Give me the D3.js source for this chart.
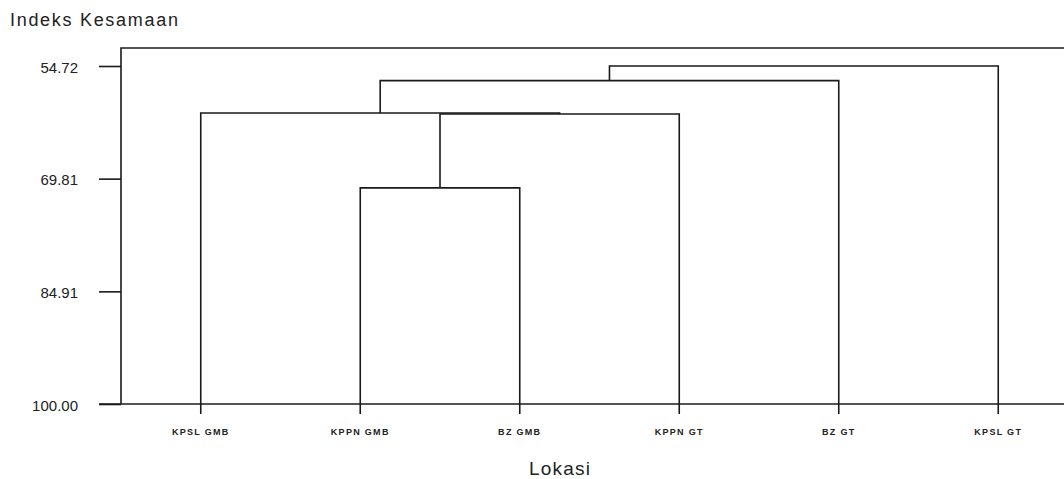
<!DOCTYPE html>
<html>
<head>
<meta charset="utf-8">
<title>Dendrogram Indeks Kesamaan</title>
<script src="https://cdn.jsdelivr.net/npm/d3@7"></script>
<style>
  html, body { margin: 0; padding: 0; background: #fff; }
  #chart { width: 1064px; height: 479px; overflow: hidden; }
  text { font-family: "Liberation Sans", Arial, sans-serif; fill: #222; }
</style>
</head>
<body>
<div id="chart"></div>
<script>
// locations along the bottom (leaf order of the dendrogram)
var lokasi = ['KPSL GMB', 'KPPN GMB', 'BZ GMB', 'KPPN GT', 'BZ GT', 'KPSL GT'];

// clustering steps: [left, right, similarity index at which they join]
// numbers refer to leaves (0..5), 'c1'.. refer to earlier clusters
var mergeLeft  = [1, 'c1', 0, 'c3', 'c4'];
var mergeRight = [2, 3, 'c2', 4, 5];
var mergeLevel = [71.05, 61.15, 61.02, 56.68, 54.72];

// y axis tick labels
var yTicks = [54.72, 69.81, 84.91, 100.00];
var yTop = 52.3; // top of the frame

(function(){
  'use strict';

  var width = 1064, height = 479;
  var left = 121, right = 1078, top = 66, bottom = 404;

  var svg = d3.select('#chart')
    .append('svg')
    .attr('width', width)
    .attr('height', height);

  var xScale = d3.scaleBand()
    .domain(lokasi)
    .range([left, right]);

  var yScale = d3.scaleLinear()
    .domain([100, 54.72])
    .range([bottom, top]);

  // positions of leaves and clusters
  var nodes = {};
  lokasi.forEach(function(d, i) {
    nodes[i] = { x: xScale(d) + xScale.bandwidth() / 2, y: yScale(100) };
  });

  var links = [];
  mergeLevel.forEach(function(lvl, i) {
    var a = nodes[mergeLeft[i]], b = nodes[mergeRight[i]];
    var yy = yScale(lvl);
    links.push([[a.x, a.y], [a.x, yy], [b.x, yy], [b.x, b.y]]);
    nodes['c' + (i + 1)] = { x: (a.x + b.x) / 2, y: yy };
  });

  var line = d3.line();

  svg.append('g')
    .selectAll('path')
    .data(links).enter()
    .append('path')
    .attr('d', line)
    .attr('fill', 'none')
    .attr('stroke', '#1a1a1a')
    .attr('stroke-width', 1.6);

  // frame: left, top
  svg.append('path')
    .attr('d', line([[right + 20, yScale(yTop)], [left, yScale(yTop)], [left, bottom]]))
    .attr('fill', 'none')
    .attr('stroke', '#1a1a1a')
    .attr('stroke-width', 1.6);

  // left axis
  var yAxis = d3.axisLeft(yScale)
    .tickValues(yTicks)
    .tickSize(22)
    .tickPadding(21)
    .tickFormat(d3.format('.2f'));

  var gy = svg.append('g')
    .attr('transform', 'translate(' + left + ',0)')
    .call(yAxis);
  gy.select('.domain').remove();
  gy.selectAll('line').attr('stroke', '#1a1a1a').attr('stroke-width', 1.6);
  gy.selectAll('text')
    .attr('font-size', '15px')
    .attr('dy', '0.4em')
    .attr('fill', '#222');

  // bottom axis
  var xAxis = d3.axisBottom(xScale)
    .tickSize(10)
    .tickPadding(15)
    .tickSizeOuter(0);

  var gx = svg.append('g')
    .attr('transform', 'translate(0,' + bottom + ')')
    .call(xAxis);
  gx.select('.domain')
    .attr('d', 'M' + (left - 22) + ',0H' + (right + 20))
    .attr('stroke', '#1a1a1a')
    .attr('stroke-width', 1.6);
  gx.selectAll('line').attr('stroke', '#1a1a1a').attr('stroke-width', 1.6);
  gx.selectAll('text')
    .attr('font-size', '9px')
    .attr('font-weight', 'bold')
    .attr('letter-spacing', '1.3px')
    .attr('fill', '#333');

  // titles
  svg.append('text')
    .attr('x', 10)
    .attr('y', 26)
    .attr('font-size', '18px')
    .attr('letter-spacing', '1.7px')
    .text('Indeks Kesamaan');

  svg.append('text')
    .attr('x', 560)
    .attr('y', 475)
    .attr('text-anchor', 'middle')
    .attr('font-size', '19px')
    .attr('letter-spacing', '1.2px')
    .text('Lokasi');

})();
</script>
</body>
</html>
